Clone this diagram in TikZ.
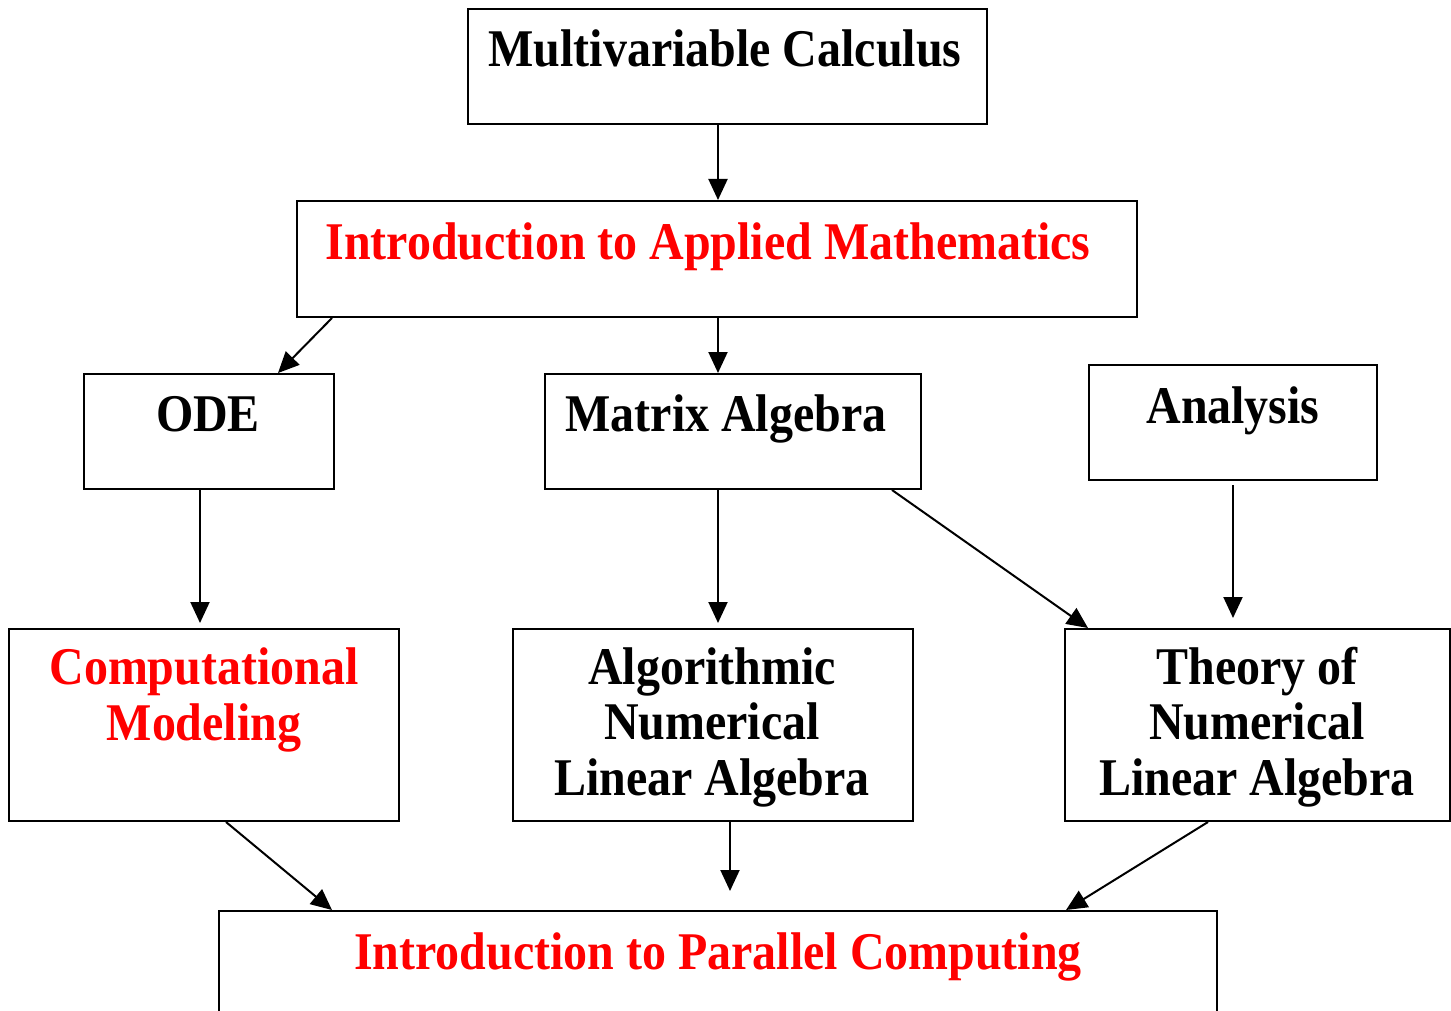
\documentclass[tikz,border=0pt]{standalone}
\usepackage{fontspec}
\setmainfont[FakeStretch=0.905]{Liberation Serif}
\usetikzlibrary{arrows.meta}
\begin{document}
\begin{tikzpicture}[x=1pt,y=-1pt,
  box/.style={draw=black,line width=2pt,inner sep=0pt,rectangle},
  lbl/.style={anchor=base,align=center,inner sep=0pt,font=\fontsize{53}{55.5}\selectfont\bfseries},
  redlbl/.style={lbl,text=red},
  arr/.style={line width=2pt,-{Triangle[length=21pt,width=19pt]}}]
\useasboundingbox (0,0) rectangle (1451,1011);
\clip (0,0) rectangle (1451,1011);
% boxes
\node[box,minimum width=519pt,minimum height=115pt] (mcbox) at (727.5,66.5) {};
\node[box,minimum width=840pt,minimum height=116pt] (iambox) at (717,259) {};
\node[box,minimum width=250pt,minimum height=115pt] (odebox) at (209,431.5) {};
\node[box,minimum width=376pt,minimum height=115pt] (mabox) at (733,431.5) {};
\node[box,minimum width=288pt,minimum height=115pt] (anbox) at (1233,422.5) {};
\node[box,minimum width=390pt,minimum height=192pt] (cmbox) at (204,725) {};
\node[box,minimum width=400pt,minimum height=192pt] (anlabox) at (713,725) {};
\node[box,minimum width=385pt,minimum height=192pt] (tnlabox) at (1257.5,725) {};
\node[box,minimum width=998pt,minimum height=150pt] (ipcbox) at (718,986) {};
% texts (base anchor = baseline of last line)
\node[lbl] (mc) at (725,67) {Multivariable Calculus};
\node[redlbl] (iam) at (708,259) {Introduction to Applied Mathematics};
\node[lbl] (ode) at (208,431) {ODE};
\node[lbl] (ma) at (726,431) {Matrix Algebra};
\node[lbl] (an) at (1233,423) {Analysis};
\node[redlbl] (cm) at (204,740) {Computational\\Modeling};
\node[lbl] (anla) at (712,795) {Algorithmic\\Numerical\\Linear Algebra};
\node[lbl] (tnla) at (1257,795) {Theory of\\Numerical\\Linear Algebra};
\node[redlbl] (ipc) at (718,969) {Introduction to Parallel Computing};
% connectors
\draw[arr] ([xshift=-9.5pt]mcbox.south) -- ([xshift=1pt]iambox.north);
\draw[arr] ([xshift=36pt]iambox.south west) -- ([xshift=-57pt]odebox.north east);
\draw[arr] ([xshift=1pt]iambox.south) -- ([xshift=-15pt]mabox.north);
\draw[arr] ([xshift=-9pt]odebox.south) -- ([xshift=-4pt,yshift=5pt]cmbox.north);
\draw[arr] ([xshift=-15pt]mabox.south) -- ([xshift=5pt,yshift=5pt]anlabox.north);
\draw[arr] ([xshift=-30pt]mabox.south east) -- ([xshift=24pt]tnlabox.north west);
\draw[arr] ([yshift=-4pt]anbox.south) -- ([xshift=-24.5pt,yshift=10pt]tnlabox.north);
\draw[arr] ([xshift=22pt]cmbox.south) -- ([xshift=114pt]ipcbox.north west);
\draw[arr] ([xshift=17pt]anlabox.south) -- ([xshift=12pt,yshift=19pt]ipcbox.north);
\draw[arr] ([xshift=-49.5pt]tnlabox.south) -- ([xshift=-152pt]ipcbox.north east);
\end{tikzpicture}
\end{document}
